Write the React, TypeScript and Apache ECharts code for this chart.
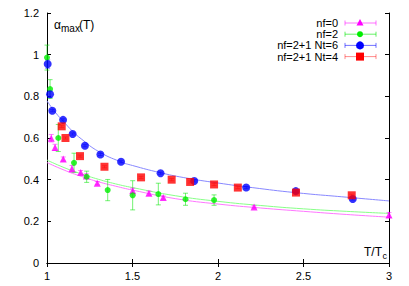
import React, { useEffect, useRef } from "react";
import * as echarts from "echarts";

// [T/Tc, alpha, error]
const nf0Data: number[][] = [
  [1.025, 0.599, 0.018], [1.047, 0.555, 0.015], [1.095, 0.499, 0.01], [1.146, 0.453, 0.015],
  [1.197, 0.434, 0.01], [1.23, 0.418, 0.01], [1.294, 0.383, 0.008], [1.501, 0.347, 0.012],
  [1.596, 0.335, 0.01], [1.68, 0.314, 0.008], [2.211, 0.269, 0.006], [3.0, 0.23, 0.012],
];
const nf2Data: number[][] = [
  [1.0, 0.986, 0.06], [1.018, 0.835, 0.045], [1.066, 0.6, 0.065], [1.158, 0.481, 0.046],
  [1.232, 0.414, 0.027], [1.355, 0.35, 0.051], [1.501, 0.325, 0.07], [1.651, 0.331, 0.052],
  [1.81, 0.306, 0.029], [1.977, 0.302, 0.025],
];
const nt6Data: number[][] = [
  [1.004, 0.955, 0.02], [1.018, 0.81, 0.015], [1.031, 0.731, 0.005], [1.094, 0.687, 0.005],
  [1.15, 0.619, 0.005], [1.222, 0.563, 0.005], [1.312, 0.521, 0.005], [1.433, 0.486, 0.005],
  [1.664, 0.431, 0.005], [1.861, 0.394, 0.005], [2.165, 0.362, 0.005], [2.455, 0.345, 0.005],
  [2.788, 0.307, 0.005],
];
const nt4Data: number[][] = [
  [1.086, 0.656, 0.005], [1.108, 0.6, 0.005], [1.193, 0.513, 0.005], [1.336, 0.462, 0.005],
  [1.55, 0.411, 0.005], [1.729, 0.4, 0.005], [1.837, 0.389, 0.005], [1.977, 0.377, 0.005],
  [2.116, 0.362, 0.005], [2.456, 0.338, 0.005], [2.782, 0.325, 0.005],
];

// fit curves
const fitBlue: number[][] = [
  [1.0, 0.778], [1.05, 0.722], [1.1, 0.676], [1.15, 0.632], [1.2, 0.596], [1.3, 0.536],
  [1.43, 0.486], [1.5, 0.468], [1.66, 0.434], [1.8, 0.41], [2.0, 0.384], [2.2, 0.362],
  [2.45, 0.338], [2.75, 0.316], [3.0, 0.298],
];
const fitGreen: number[][] = [
  [1.0, 0.494], [1.1, 0.458], [1.2, 0.428], [1.3, 0.402], [1.4, 0.38], [1.5, 0.362],
  [1.75, 0.323], [2.0, 0.296], [2.25, 0.276], [2.5, 0.26], [2.75, 0.248], [3.0, 0.238],
];
const fitMagenta: number[][] = [
  [1.0, 0.482], [1.1, 0.446], [1.2, 0.416], [1.3, 0.39], [1.4, 0.369], [1.5, 0.35],
  [1.75, 0.309], [2.0, 0.283], [2.25, 0.264], [2.5, 0.248], [2.75, 0.233], [3.0, 0.22],
];

const seriesNames = ["nf=0", "nf=2", "nf=2+1 Nt=6", "nf=2+1 Nt=4"];
const xTicks = { min: 1, max: 3, interval: 0.5 };
const yTicks = { min: 0, max: 1.2, interval: 0.2 };

const FONT = "Liberation Sans, Arial, sans-serif";

function errorBars(data: number[][], color: string, z: number) {
  return {
    type: "custom",
    data,
    z,
    encode: { x: 0, y: 1 },
    renderItem: (params: any, api: any) => {
      const x = api.value(0), y = api.value(1), e = api.value(2);
      const top = api.coord([x, y + e]);
      const bot = api.coord([x, y - e]);
      const hw = 2.5;
      const st = { stroke: color, lineWidth: 1 };
      return {
        type: "group",
        children: [
          { type: "line", shape: { x1: top[0], y1: top[1], x2: bot[0], y2: bot[1] }, style: st },
          { type: "line", shape: { x1: top[0] - hw, y1: top[1], x2: top[0] + hw, y2: top[1] }, style: st },
          { type: "line", shape: { x1: bot[0] - hw, y1: bot[1], x2: bot[0] + hw, y2: bot[1] }, style: st },
        ],
      };
    },
  };
}

function legendItem(i: number, name: string, lineColor: string, marker: any) {
  const y = 23 + i * 11.2;
  const x1 = 345, x2 = 376;
  const st = { stroke: lineColor, lineWidth: 1 };
  return [
    { type: "text", x: 338, y, style: { text: name, fontSize: 11, fontFamily: FONT, fill: "#000", align: "right", verticalAlign: "middle" } },
    { type: "line", shape: { x1, y1: y, x2, y2: y }, style: st },
    { type: "line", shape: { x1, y1: y - 2.5, x2: x1, y2: y + 2.5 }, style: st },
    { type: "line", shape: { x1: x2, y1: y - 2.5, x2: x2, y2: y + 2.5 }, style: st },
    marker(360, y),
  ];
}

export default function App() {
  const ref = useRef<HTMLDivElement>(null);
  useEffect(() => {
    if (!ref.current) return;
    const chart = echarts.init(ref.current, null, { renderer: "svg" });
    const axisCommon = {
      axisLine: { show: true, lineStyle: { color: "#000", width: 1 } },
      axisTick: { show: true, inside: true, length: 4, lineStyle: { color: "#000" } },
      splitLine: { show: false },
    };
    const mk = (name: string, data: number[][], symbol: string, size: number, color: string) => ({
      name,
      type: "scatter",
      data: data.map((d) => [d[0], d[1]]),
      symbol,
      symbolSize: size,
      itemStyle: { color },
      z: 5,
    });
    const fit = (data: number[][], color: string) => ({
      type: "line",
      data,
      smooth: true,
      showSymbol: false,
      lineStyle: { color, width: 1 },
      z: 2,
    });
    chart.setOption({
      animation: false,
      grid: { left: 47, top: 13, right: 20, bottom: 23 },
      xAxis: [
        {
          type: "value", ...xTicks, ...axisCommon,
          axisLabel: { color: "#000", fontSize: 11, fontFamily: FONT, margin: 7, formatter: (v: number) => String(v) },
        },
        { type: "value", position: "top", ...xTicks, ...axisCommon, axisLabel: { show: false } },
      ],
      yAxis: [
        {
          type: "value", ...yTicks, ...axisCommon,
          axisLabel: { color: "#000", fontSize: 11, fontFamily: FONT, margin: 8, formatter: (v: number) => String(Math.round(v * 10) / 10) },
        },
        { type: "value", position: "right", ...yTicks, ...axisCommon, axisLabel: { show: false } },
      ],
      series: [
        fit(fitMagenta, "#ff77ff"),
        fit(fitGreen, "#88ff88"),
        fit(fitBlue, "#8888ff"),
        errorBars(nf0Data, "rgba(255,0,255,0.5)", 3),
        mk(seriesNames[0], nf0Data, "triangle", 7, "#ff00ff"),
        errorBars(nf2Data, "rgba(0,230,0,0.55)", 3),
        mk(seriesNames[1], nf2Data, "circle", 6, "#00ee00"),
        errorBars(nt6Data, "rgba(0,0,255,0.5)", 3),
        mk(seriesNames[2], nt6Data, "circle", 8, "#0000ff"),
        errorBars(nt4Data, "rgba(255,0,0,0.4)", 3),
        mk(seriesNames[3], nt4Data, "rect", 8, "#ff0000"),
      ],
      graphic: [
        { type: "text", x: 54, y: 25, style: { text: "α", fontSize: 12, fontFamily: FONT, fill: "#000", verticalAlign: "middle" } },
        { type: "text", x: 61, y: 28, style: { text: "max", fontSize: 10, fontFamily: FONT, fill: "#000", verticalAlign: "middle" } },
        { type: "text", x: 79, y: 25, style: { text: "(T)", fontSize: 12, fontFamily: FONT, fill: "#000", verticalAlign: "middle" } },
        { type: "text", x: 364, y: 252, style: { text: "T/T", fontSize: 12, fontFamily: FONT, fill: "#000", verticalAlign: "middle" } },
        { type: "text", x: 382.5, y: 256, style: { text: "c", fontSize: 9, fontFamily: FONT, fill: "#000", verticalAlign: "middle" } },
        ...legendItem(0, seriesNames[0], "rgba(255,0,255,0.55)", (x: number, y: number) => ({
          type: "polygon", shape: { points: [[x, y - 4], [x - 3.5, y + 2.5], [x + 3.5, y + 2.5]] }, style: { fill: "#ff00ff" },
        })),
        ...legendItem(1, seriesNames[1], "rgba(0,230,0,0.6)", (x: number, y: number) => ({
          type: "circle", shape: { cx: x, cy: y, r: 3 }, style: { fill: "#00ee00" },
        })),
        ...legendItem(2, seriesNames[2], "rgba(0,0,255,0.55)", (x: number, y: number) => ({
          type: "circle", shape: { cx: x, cy: y, r: 4 }, style: { fill: "#0000ff" },
        })),
        ...legendItem(3, seriesNames[3], "rgba(255,0,0,0.45)", (x: number, y: number) => ({
          type: "rect", shape: { x: x - 4, y: y - 4, width: 8, height: 8 }, style: { fill: "#ff0000" },
        })),
      ],
    });
    return () => chart.dispose();
  }, []);
  return <div ref={ref} style={{ width: 409, height: 286, position: "absolute", left: 0, top: 0 }} />;
}
